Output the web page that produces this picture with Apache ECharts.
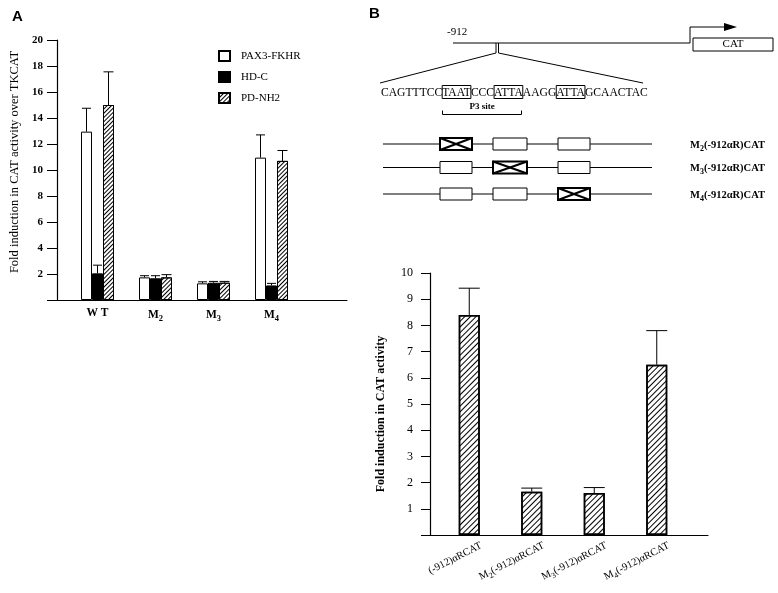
<!DOCTYPE html>
<html lang="en">
<head>
  <meta charset="UTF-8">
  <title>Fold induction in CAT activity</title>
  <style>
    html, body { margin: 0; padding: 0; background: #fff; }
    #main { width: 778px; height: 593px; }
  </style>
</head>
<body>
  <div id="main"></div>
  <script src="https://cdn.jsdelivr.net/npm/echarts@6/dist/echarts.min.js"></script>
  <script>
    // ---- panel A data ----
    var groupsA = ['WT', 'M2', 'M3', 'M4', ''];
    var pax3Fkhr = [12.95, 1.74, 1.28, 10.95];
    var pax3FkhrErr = [14.75, 1.87, 1.4, 12.7];
    var hdC = [2.05, 1.67, 1.33, 1.12];
    var hdCErr = [2.68, 1.87, 1.43, 1.28];
    var pdNh2 = [15.0, 1.74, 1.33, 10.7];
    var pdNh2Err = [17.55, 1.95, 1.43, 11.5];
    var seriesNamesA = ['PAX3-FKHR', 'HD-C', 'PD-NH2'];

    // ---- panel B data ----
    var constructsB = ['(-912)αRCAT', 'M2(-912)αRCAT', 'M3(-912)αRCAT', 'M4(-912)αRCAT'];
    var foldB = [8.4, 1.65, 1.6, 6.5];
    var foldBErr = [9.42, 1.79, 1.81, 7.8];

    // ---- panel B schematic ----
    var sequenceRich = '{n|CAGTTTCC}{b|TAAT}{n|CCC}{b|ATTA}{n|AAGG}{b|ATTA}{n|GCAACTAC}';
    var mutantLabels = ['M2(-912αR)CAT', 'M3(-912αR)CAT', 'M4(-912αR)CAT'];

    var serif = "'Liberation Serif', 'Times New Roman', serif";
    var sans = "'Liberation Sans', Arial, sans-serif";

    var hatchA = { symbol: 'rect', symbolSize: 1, dashArrayX: [1, 0], dashArrayY: [1, 2], rotation: -Math.PI / 4, color: '#000' };
    var hatchB = { symbol: 'rect', symbolSize: 1, dashArrayX: [1, 0], dashArrayY: [1, 3], rotation: -Math.PI / 4, color: '#000' };

    var barWA = 11;
    var barWB = 21;

    // "M2..." -> M with subscript digit
    function subM(text) {
      var m = /^M(\d)(.*)$/.exec(text);
      if (!m) return '{m|' + text + '}';
      return '{m|M}{s|' + m[1] + '}' + (m[2] ? '{m|' + m[2] + '}' : '');
    }

    function errorBars(values, tops, xIdx, yIdx, offset, cap) {
      return {
        type: 'custom',
        xAxisIndex: xIdx,
        yAxisIndex: yIdx,
        silent: true,
        z: 5,
        data: values.map(function (v, i) { return [i, v, tops[i]]; }),
        renderItem: function (params, api) {
          var base = api.coord([api.value(0), api.value(1)]);
          var top = api.coord([api.value(0), api.value(2)]);
          var x = base[0] + offset;
          var st = { stroke: '#000', lineWidth: 1 };
          return {
            type: 'group',
            children: [
              { type: 'line', shape: { x1: x, y1: base[1], x2: x, y2: top[1] }, style: st },
              { type: 'line', shape: { x1: x - cap / 2, y1: top[1], x2: x + cap / 2, y2: top[1] }, style: st }
            ]
          };
        }
      };
    }

    function plainLine(x1, y1, x2, y2, w) {
      return { type: 'line', silent: true, shape: { x1: x1, y1: y1, x2: x2, y2: y2 }, style: { stroke: '#000', lineWidth: w || 1 } };
    }

    // schematic elements (not data)
    var diagram = [
      { type: 'text', x: 12, y: 9, style: { text: 'A', font: 'bold 15px ' + sans, fill: '#000' } },
      { type: 'text', x: 369, y: 6, style: { text: 'B', font: 'bold 15px ' + sans, fill: '#000' } },
      { type: 'text', x: 447, y: 27, style: { text: '-912', font: '11px ' + serif, fill: '#000' } },
      plainLine(453, 43, 690, 43),
      { type: 'polyline', silent: true, shape: { points: [[690, 43], [690, 27], [727, 27]] }, style: { stroke: '#000', lineWidth: 1, fill: null } },
      { type: 'polygon', silent: true, shape: { points: [[724, 23], [737, 27], [724, 31]] }, style: { fill: '#000' } },
      { type: 'rect', silent: true, shape: { x: 693, y: 38, width: 80, height: 13 }, style: { stroke: '#000', fill: '#fff', lineWidth: 1 } },
      { type: 'text', x: 733, y: 44.5, style: { text: 'CAT', font: '11px ' + serif, fill: '#000', align: 'center', verticalAlign: 'middle' } },
      plainLine(496, 43, 496, 53),
      plainLine(498.5, 43, 498.5, 53),
      plainLine(496, 53, 380, 83),
      plainLine(498.5, 53, 643, 83),
      {
        type: 'text', x: 381, y: 92,
        style: {
          text: sequenceRich,
          font: '11.6px ' + serif,
          fill: '#000',
          verticalAlign: 'middle',
          rich: {
            n: { fontSize: 11.6, fontFamily: serif, fill: '#000', padding: [1, 0, 0, 0] },
            b: { fontSize: 11.6, fontFamily: serif, fill: '#000', borderColor: '#000', borderWidth: 1, padding: [1, 0, 0, 0] }
          }
        }
      },
      { type: 'polyline', silent: true, shape: { points: [[442.5, 110.5], [442.5, 114.5], [521.5, 114.5], [521.5, 110.5]] }, style: { stroke: '#000', lineWidth: 1, fill: null } },
      { type: 'text', x: 482, y: 107, style: { text: 'P3 site', font: 'bold 9px ' + serif, fill: '#000', align: 'center', verticalAlign: 'middle' } }
    ];

    var rowY = [144, 167.5, 194];
    var boxX = [[440, 472], [493, 527], [558, 590]];
    rowY.forEach(function (y, r) {
      diagram.push(plainLine(383, y, 652, y));
      boxX.forEach(function (bx, k) {
        var mut = (k === r);
        diagram.push({ type: 'rect', silent: true, shape: { x: bx[0], y: y - 6, width: bx[1] - bx[0], height: 12 }, style: { stroke: '#000', fill: '#fff', lineWidth: mut ? 2 : 1 } });
        if (mut) {
          diagram.push(plainLine(bx[0], y - 6, bx[1], y + 6, 2));
          diagram.push(plainLine(bx[0], y + 6, bx[1], y - 6, 2));
        }
      });
      diagram.push({
        type: 'text', x: 690, y: y + 1,
        style: {
          text: subM(mutantLabels[r]),
          fill: '#000',
          verticalAlign: 'middle',
          rich: {
            m: { fontSize: 10.5, fontFamily: serif, fontWeight: 'bold', fill: '#000' },
            s: { fontSize: 8, fontFamily: serif, fontWeight: 'bold', fill: '#000', padding: [7, 0, 0, 0] }
          }
        }
      });
    });

    var chart = echarts.init(document.getElementById('main'));

    var lineOnlyX = function (gi) {
      return {
        type: 'value', gridIndex: gi, min: 0, max: 1,
        axisLine: { show: true, lineStyle: { color: '#000', width: 1.2 } },
        axisTick: { show: false }, axisLabel: { show: false }, splitLine: { show: false }
      };
    };
    var hiddenY = function (gi, max) {
      return { type: 'value', gridIndex: gi, min: 0, max: max, show: false };
    };

    var option = {
      animation: false,
      backgroundColor: '#fff',
      grid: [
        { left: 57, top: 40, width: 290, height: 260 },
        { left: 68.5, top: 40, width: 290, height: 260 },
        { left: 430, top: 273, width: 278, height: 262 },
        { left: 438, top: 273, width: 250, height: 262 },
        { left: 450, top: 273, width: 250, height: 262 }
      ],
      legend: {
        data: seriesNamesA,
        orient: 'vertical',
        left: 213, top: 45,
        itemWidth: 11, itemHeight: 10, itemGap: 9,
        icon: 'rect',
        selectedMode: false,
        textStyle: { fontFamily: serif, fontSize: 11, color: '#000', padding: [0, 0, 0, 6] }
      },
      xAxis: [
        lineOnlyX(0),
        {
          type: 'category', gridIndex: 1, data: groupsA,
          axisLine: { show: false }, axisTick: { show: false },
          axisLabel: {
            color: '#000', margin: 7, interval: 0,
            formatter: function (v) { return v === 'WT' ? '{m|W T}' : subM(v); },
            rich: {
              m: { fontFamily: serif, fontSize: 11.5, fontWeight: 'bold', color: '#000' },
              s: { fontFamily: serif, fontSize: 8.5, fontWeight: 'bold', color: '#000', padding: [7, 0, 0, 0] }
            }
          }
        },
        lineOnlyX(2),
        {
          type: 'category', gridIndex: 3, data: constructsB,
          axisLine: { show: false }, axisTick: { show: false }, axisLabel: { show: false }
        },
        {
          type: 'category', gridIndex: 4, data: constructsB,
          axisLine: { show: false }, axisTick: { show: false },
          axisLabel: {
            color: '#000', rotate: 27, margin: 10, interval: 0,
            formatter: function (v) { return subM(v); },
            rich: {
              m: { fontFamily: serif, fontSize: 10.5, color: '#000' },
              s: { fontFamily: serif, fontSize: 8, color: '#000', padding: [7, 0, 0, 0] }
            }
          }
        }
      ],
      yAxis: [
        {
          type: 'value', gridIndex: 0, min: 0, max: 20, interval: 2,
          name: 'Fold induction in CAT activity over TKCAT',
          nameLocation: 'middle', nameGap: 36,
          nameTextStyle: { fontFamily: serif, fontSize: 12.5, color: '#000', padding: [0, 0, 0, 16] },
          axisLine: { show: true, lineStyle: { color: '#000', width: 1.2 } },
          axisTick: { show: true, length: 10, lineStyle: { color: '#000' } },
          axisLabel: {
            fontFamily: serif, fontSize: 11, fontWeight: 'bold', color: '#000', margin: 14,
            formatter: function (v) { return v === 0 ? '' : v; }
          },
          splitLine: { show: false }
        },
        hiddenY(1, 20),
        {
          type: 'value', gridIndex: 2, min: 0, max: 10, interval: 1,
          name: 'Fold induction in CAT activity',
          nameLocation: 'middle', nameGap: 43,
          nameTextStyle: { fontFamily: serif, fontSize: 12, fontWeight: 'bold', color: '#000', padding: [0, 20, 0, 0] },
          axisLine: { show: true, lineStyle: { color: '#000', width: 1.2 } },
          axisTick: { show: true, length: 9, lineStyle: { color: '#000' } },
          axisLabel: {
            fontFamily: serif, fontSize: 12, color: '#000', margin: 17,
            formatter: function (v) { return v === 0 ? '' : v; }
          },
          splitLine: { show: false }
        },
        hiddenY(3, 10),
        hiddenY(4, 10)
      ],
      graphic: diagram,
      series: [
        {
          name: seriesNamesA[0], type: 'bar', xAxisIndex: 1, yAxisIndex: 1,
          data: pax3Fkhr, barWidth: barWA, barGap: '0%',
          itemStyle: { color: '#fff', borderColor: '#000', borderWidth: 1 }
        },
        {
          name: seriesNamesA[1], type: 'bar', xAxisIndex: 1, yAxisIndex: 1,
          data: hdC, barWidth: barWA, barGap: '0%',
          itemStyle: { color: '#000', borderColor: '#000', borderWidth: 1 }
        },
        {
          name: seriesNamesA[2], type: 'bar', xAxisIndex: 1, yAxisIndex: 1,
          data: pdNh2, barWidth: barWA, barGap: '0%',
          itemStyle: { color: '#fff', borderColor: '#000', borderWidth: 1, decal: hatchA }
        },
        errorBars(pax3Fkhr, pax3FkhrErr, 1, 1, -barWA, 9),
        errorBars(hdC, hdCErr, 1, 1, 0, 9),
        errorBars(pdNh2, pdNh2Err, 1, 1, barWA, 10),
        {
          name: 'Fold induction', type: 'bar', xAxisIndex: 3, yAxisIndex: 3,
          data: foldB, barWidth: barWB,
          itemStyle: { color: '#fff', borderColor: '#000', borderWidth: 1.5, decal: hatchB }
        },
        errorBars(foldB, foldBErr, 3, 3, 0, barWB)
      ]
    };

    chart.setOption(option);
  </script>
</body>
</html>
